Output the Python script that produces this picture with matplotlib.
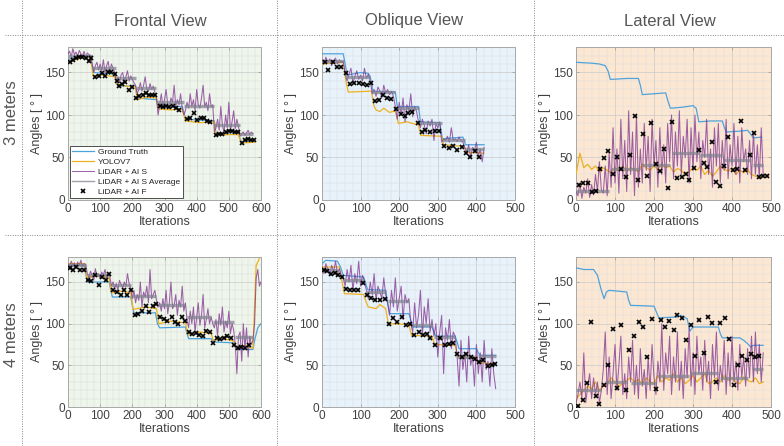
import numpy as np
import matplotlib
matplotlib.use("Agg")
import matplotlib.pyplot as plt
from matplotlib.lines import Line2D
from matplotlib.ticker import MultipleLocator

plt.rcParams['font.family'] = ['Liberation Sans', 'DejaVu Sans']

# ==========================================================
# DATA  (angles in degrees)
# ==========================================================
col_titles = ["Frontal View", "Oblique View", "Lateral View"]
row_titles = ["3 meters", "4 meters"]
legend_labels = ["Ground Truth", "YOLOV7", "LiDAR + AI S", "LiDAR + AI S Average", "LiDAR + AI F"]
x_limits = [600, 500, 500]
y_ticks = [0, 50, 100, 150]

# ---- 3 m, frontal
f3_gt_x = [0, 20, 70, 75, 80, 145, 150, 155, 210, 215, 275, 280, 355, 360, 365, 455, 460, 530, 535, 540, 580]
f3_gt_y = [165, 168, 170, 160, 150, 148, 140, 134, 134, 120, 118, 110, 110, 104, 95, 93, 78, 77, 72, 68, 70]
f3_yolo_x = [0, 30, 70, 78, 110, 145, 152, 180, 210, 215, 245, 275, 282, 320, 355, 365, 410, 455, 460, 500, 530, 538, 580]
f3_yolo_y = [162, 166, 168, 146, 147, 145, 136, 134, 133, 118, 121, 120, 107, 106, 107, 93, 91, 92, 76, 77, 77, 67, 68]
f3_s = [172, 175, 168, 178, 171, 174, 169, 176, 172, 170, 175, 168, 173, 171, 170,
        160, 150, 158, 162, 153, 160, 152, 165, 150, 158, 163, 150, 160, 155, 150,
        140, 145, 138, 147, 150, 140, 145, 152, 140, 146, 142, 138,
        135, 125, 130, 138, 128, 135, 145, 130, 128, 137, 130, 134, 127,
        120, 100, 112, 125, 110, 118, 130, 112, 108, 120, 115, 135, 110, 118, 112, 125, 108,
        100, 105, 115, 108, 125, 110, 118, 105, 130, 112, 108, 120, 135, 110, 115, 105, 125, 110, 112,
        80, 85, 95, 82, 110, 88, 80, 100, 85, 115, 82, 92, 105, 84, 95, 86,
        75, 78, 80, 76, 79, 82, 77, 80, 78]
f3_avg_start = [0, 75, 150, 210, 275, 360, 455, 535]
f3_avg_end = [75, 150, 210, 275, 360, 455, 535, 575]
f3_avg_val = [170, 155, 143, 132, 115, 110, 88, 78]
f3_f_x = [5, 15, 25, 35, 45, 55, 65, 72, 85, 95, 105, 115, 125, 135, 145, 152, 160, 168, 178, 190, 200,
          212, 222, 232, 242, 252, 262, 272, 285, 295, 305, 315, 325, 335, 345, 370, 380, 392, 402, 412,
          422, 432, 442, 460, 470, 480, 490, 500, 510, 520, 530, 540, 550, 560, 570, 578]
f3_f_y = [162, 165, 167, 168, 168, 167, 163, 167, 145, 146, 149, 146, 151, 150, 148, 140, 134, 137, 139, 129, 133,
          120, 122, 124, 126, 124, 123, 123, 110, 109, 110, 109, 111, 108, 106, 95, 96, 102, 94, 96,
          97, 93, 92, 76, 78, 78, 80, 81, 81, 80, 80, 67, 70, 72, 70, 71]

# ---- 3 m, oblique
o3_gt_x = [0, 55, 60, 65, 100, 120, 125, 132, 190, 195, 250, 255, 305, 312, 365, 372, 420]
o3_gt_y = [172, 172, 160, 147, 150, 149, 145, 128, 127, 110, 110, 92, 91, 72, 74, 65, 65]
o3_yolo_x = [0, 55, 62, 68, 128, 135, 140, 150, 160, 175, 190, 198, 220, 250, 256, 310, 315, 368, 375, 420]
o3_yolo_y = [160, 162, 140, 127, 128, 110, 106, 104, 108, 103, 105, 90, 92, 88, 76, 75, 65, 63, 56, 55]
o3_s = [165, 160, 168, 162, 166, 158, 164, 167, 160, 165, 162, 163,
        150, 140, 148, 155, 138, 145, 152, 142, 147, 140, 155, 143, 148, 140,
        125, 130, 122, 133, 128, 120, 135, 126, 130, 124, 128, 122,
        110, 95, 115, 100, 120, 92, 112, 105, 125, 98, 110, 104,
        92, 85, 95, 88, 78, 93, 87, 95, 70, 90, 85, 92,
        68, 72, 70, 75, 68, 85, 70, 72, 69, 74, 70, 68,
        62, 55, 65, 50, 62, 58, 68, 52, 60, 45, 62]
o3_avg_start = [0, 60, 130, 190, 250, 310, 370]
o3_avg_end = [58, 125, 190, 250, 310, 370, 420]
o3_avg_val = [163, 145, 127, 108, 90, 70, 60]
o3_f_x = [8, 16, 28, 39, 50, 61, 72, 83, 96, 106, 117, 128, 137, 147, 158, 168, 180, 192, 204, 214, 224,
          234, 248, 258, 268, 280, 292, 304, 316, 328, 340, 350, 362, 374, 384, 396, 406]
o3_f_y = [162, 153, 162, 157, 157, 149, 136, 138, 138, 136, 135, 138, 116, 118, 123, 120, 119, 107, 101, 99, 102,
          103, 90, 80, 82, 80, 81, 81, 63, 61, 64, 59, 62, 55, 51, 58, 51]

# ---- 3 m, lateral
l3_gt_x = [0, 40, 60, 75, 82, 88, 95, 130, 160, 165, 170, 200, 230, 236, 242, 270, 300, 308, 315, 345,
           375, 380, 385, 420, 440, 447, 455, 475]
l3_gt_y = [162, 161, 160, 158, 152, 142, 142, 143, 143, 135, 124, 125, 126, 116, 108, 109, 111, 108, 92, 93,
           93, 86, 80, 81, 82, 78, 73, 74]
l3_yolo = [30, 55, 38, 42, 36, 40, 33, 38, 35, 32, 38, 35, 40, 34, 38, 36, 33, 42, 38, 35, 40, 36, 42, 38, 40,
           33, 37, 35, 30, 33, 38, 35, 40, 30, 35, 28, 33, 40, 36, 34, 38, 30, 35, 32, 36, 30, 28, 27, 28]
l3_s = [10, 5, 20, 2, 15, 8, 25, 3, 18, 6, 30, 10, 45, 12, 8, 40, 5, 55,
        15, 85, 20, 60, 8, 95, 25, 70, 10, 105, 30, 80, 5, 100, 15, 60, 20, 90, 35, 75, 10, 95,
        40, 70, 15, 85, 30, 65, 20, 90, 45, 100, 25, 80, 40, 105, 30, 75, 50, 95, 20, 85,
        35, 100, 45, 80, 25, 70, 50, 95, 30, 60, 15, 85, 40, 90, 20, 70, 35, 95, 25, 65,
        40, 90, 30, 75, 20, 85, 45, 60, 30, 70, 25, 80, 30, 65, 25, 85, 30]
l3_avg_start = [0, 90, 170, 245, 318, 380, 455]
l3_avg_end = [85, 165, 240, 315, 375, 448, 480]
l3_avg_val = [10, 36, 41, 55, 53, 47, 41]
l3_f_x = [7, 19, 30, 40, 51, 62, 73, 83, 96, 105, 116, 128, 139, 150, 160, 171, 182, 193, 204, 215, 226,
          236, 247, 259, 271, 282, 291, 303, 316, 327, 337, 348, 359, 369, 380, 391, 402, 413, 424, 434,
          446, 457, 468, 479, 490]
l3_f_y = [18, 20, 20, 9, 10, 36, 49, 58, 31, 50, 36, 27, 53, 99, 24, 78, 28, 91, 42, 34, 60,
          14, 92, 26, 27, 31, 23, 38, 59, 43, 39, 68, 21, 16, 40, 74, 35, 37, 93, 35,
          53, 79, 27, 28, 28]

# ---- 4 m, frontal
f4_gt_x = [0, 50, 55, 60, 128, 133, 138, 195, 200, 205, 272, 278, 285, 365, 370, 375, 445, 450, 455, 515,
           520, 525, 575, 580, 590, 600]
f4_gt_y = [170, 170, 160, 150, 150, 140, 132, 132, 122, 113, 113, 100, 95, 96, 88, 82, 82, 80, 78, 77,
           72, 69, 69, 80, 95, 100]
f4_yolo_x = [0, 52, 58, 90, 128, 135, 165, 195, 202, 240, 275, 282, 320, 365, 372, 410, 445, 452, 485, 515,
             522, 550, 575, 580, 585, 595]
f4_yolo_y = [172, 172, 155, 157, 155, 137, 139, 137, 117, 120, 118, 100, 103, 101, 87, 90, 88, 80, 82, 79,
             72, 74, 70, 120, 170, 178]
f4_s = [172, 168, 175, 170, 173, 167, 174, 170, 176, 169, 172, 171,
        160, 155, 163, 158, 152, 166, 157, 160, 154, 162, 158, 165, 155, 160, 157,
        145, 150, 142, 148, 140, 152, 147, 143, 150, 145, 160, 148, 142,
        130, 140, 125, 135, 128, 150, 120, 138, 132, 145, 125, 165, 130, 135, 140, 128,
        120, 125, 115, 130, 118, 140, 112, 125, 150, 118, 122, 135, 110, 128, 120, 145, 115, 125,
        105, 95, 115, 100, 120, 90, 108, 125, 98, 110, 135, 95, 105, 118, 100, 108,
        100, 95, 105, 85, 112, 98, 120, 90, 103, 95, 115, 88, 100, 92,
        75, 40, 85, 90, 55, 100, 70, 95, 60, 85, 75, 80,
        100, 155, 165, 145, 150]
f4_avg_start = [0, 60, 135, 200, 280, 370, 450, 520]
f4_avg_end = [55, 130, 195, 275, 365, 445, 515, 575]
f4_avg_val = [170, 158, 147, 133, 122, 108, 102, 84]
f4_f_x = [5, 16, 26, 38, 50, 62, 72, 85, 95, 107, 118, 129, 141, 152, 164, 175, 184, 195, 207, 218, 230,
          241, 252, 264, 275, 287, 298, 309, 322, 332, 342, 353, 365, 375, 387, 397, 408, 419, 429, 440,
          451, 462, 474, 484, 494, 507, 517, 528, 539, 550, 562]
f4_f_y = [167, 164, 168, 165, 165, 152, 151, 159, 146, 156, 152, 160, 140, 138, 134, 141, 135, 140, 111, 112, 115,
          121, 114, 121, 124, 108, 106, 103, 108, 102, 100, 108, 103, 90, 88, 89, 87, 85, 91, 90,
          77, 83, 82, 83, 85, 83, 75, 71, 72, 71, 74]

# ---- 4 m, oblique
o4_gt_x = [0, 10, 40, 48, 55, 108, 112, 118, 165, 170, 175, 225, 230, 235, 285, 290, 295, 345, 350, 355,
           400, 405, 410, 450]
o4_gt_y = [172, 176, 175, 168, 158, 156, 150, 141, 140, 125, 112, 112, 105, 96, 96, 90, 85, 85, 78, 70,
           70, 65, 62, 62]
o4_yolo_x = [0, 45, 52, 58, 108, 115, 120, 140, 150, 165, 172, 225, 232, 285, 292, 345, 352, 400, 407, 450]
o4_yolo_y = [168, 168, 150, 136, 135, 125, 120, 118, 123, 118, 100, 99, 86, 85, 75, 74, 60, 59, 53, 52]
o4_s = [168, 160, 172, 165, 158, 170, 162, 175, 160, 166, 158,
        155, 145, 165, 150, 170, 140, 160, 148, 175, 145, 158, 150,
        140, 130, 150, 135, 160, 128, 145, 138, 130, 155, 135,
        125, 110, 140, 120, 155, 115, 130, 145, 105, 135, 125, 130,
        100, 90, 125, 95, 110, 140, 85, 120, 100, 130, 90, 105,
        85, 100, 60, 90, 110, 40, 95, 80, 105, 70, 90, 85,
        60, 25, 80, 45, 65, 30, 85, 50, 60, 25, 75, 40, 65, 30, 80, 45, 55, 25, 70, 40, 22]
o4_avg_start = [0, 55, 115, 170, 230, 290, 350, 405]
o4_avg_end = [45, 110, 165, 225, 285, 345, 400, 450]
o4_avg_val = [165, 152, 138, 127, 99, 84, 60, 61]
o4_f_x = [4, 14, 23, 33, 42, 52, 61, 72, 83, 93, 106, 117, 127, 137, 149, 162, 174, 184, 194, 206, 217,
          228, 238, 250, 261, 271, 281, 294, 306, 318, 329, 339, 351, 362, 374, 385, 396, 407, 418, 429,
          440, 448]
o4_f_y = [165, 163, 160, 161, 159, 156, 142, 140, 140, 141, 149, 134, 131, 129, 128, 130, 100, 107, 102, 108, 99,
          100, 87, 90, 86, 88, 83, 75, 83, 74, 76, 77, 64, 60, 64, 60, 58, 54, 56, 49,
          51, 52]

# ---- 4 m, lateral
l4_gt_x = [0, 20, 45, 55, 65, 72, 78, 85, 130, 135, 140, 200, 207, 212, 260, 268, 285, 292, 298, 305,
           365, 370, 375, 420, 430, 440, 448, 455, 480]
l4_gt_y = [167, 165, 165, 158, 140, 130, 138, 140, 138, 128, 122, 121, 113, 107, 108, 110, 106, 91, 95, 96,
           96, 88, 83, 83, 80, 76, 72, 74, 74]
l4_yolo = [10, 15, 20, 25, 22, 30, 20, 25, 28, 35, 30, 25, 28, 32, 35, 30, 33, 28, 35, 30, 28, 38, 30, 35, 32,
           40, 30, 35, 28, 32, 38, 30, 35, 40, 28, 30, 35, 30, 38, 32, 35, 30, 28, 36, 32, 30, 35, 28, 30]
l4_s = [5, 15, 30, 10, 65, 5, 25, 40, 10, 35, 15, 30, 5, 20, 45, 90, 15, 60, 10, 40,
        75, 20, 50, 85, 15, 40, 10, 60, 30, 80, 15, 50, 10, 70, 25, 45, 10, 60, 20, 75,
        35, 15, 55, 30, 100, 20, 65, 40, 85, 15, 60, 30, 90, 20, 55, 10, 70, 35, 95, 25,
        65, 15, 85, 40, 60, 20, 80, 30, 55, 10, 75, 35, 90, 20, 50, 30, 80, 15, 65, 25,
        85, 30, 55, 20, 75, 35, 60, 25, 70, 35, 85, 30, 90, 40, 75, 30, 65]
l4_avg_start = [0, 75, 140, 210, 295, 370, 450]
l4_avg_end = [65, 130, 205, 290, 365, 440, 480]
l4_avg_val = [20, 30, 29, 37, 41, 35, 46]
l4_f_x = [6, 17, 27, 39, 50, 60, 71, 82, 94, 105, 115, 127, 137, 149, 161, 171, 182, 194, 205, 217, 227,
          239, 250, 260, 271, 283, 294, 305, 316, 327, 338, 349, 360, 370, 381, 393, 404, 415, 426, 438,
          449, 460, 468]
l4_f_y = [1, 8, 29, 102, 13, 4, 27, 51, 94, 23, 98, 20, 69, 85, 102, 96, 60, 106, 22, 104, 96,
          103, 92, 110, 107, 81, 98, 61, 104, 65, 108, 101, 30, 101, 107, 82, 26, 51, 61, 56,
          64, 60, 61]

panels = [
    [(f3_gt_x, f3_gt_y, f3_yolo_x, f3_yolo_y, f3_s, f3_avg_start, f3_avg_end, f3_avg_val, f3_f_x, f3_f_y),
     (o3_gt_x, o3_gt_y, o3_yolo_x, o3_yolo_y, o3_s, o3_avg_start, o3_avg_end, o3_avg_val, o3_f_x, o3_f_y),
     (l3_gt_x, l3_gt_y, None, l3_yolo, l3_s, l3_avg_start, l3_avg_end, l3_avg_val, l3_f_x, l3_f_y)],
    [(f4_gt_x, f4_gt_y, f4_yolo_x, f4_yolo_y, f4_s, f4_avg_start, f4_avg_end, f4_avg_val, f4_f_x, f4_f_y),
     (o4_gt_x, o4_gt_y, o4_yolo_x, o4_yolo_y, o4_s, o4_avg_start, o4_avg_end, o4_avg_val, o4_f_x, o4_f_y),
     (l4_gt_x, l4_gt_y, None, l4_yolo, l4_s, l4_avg_start, l4_avg_end, l4_avg_val, l4_f_x, l4_f_y)],
]

# ==========================================================
# STYLE
# ==========================================================
bg_colors = ['#eef5ea', '#e7f2fb', '#fce7d3']
c_gt = '#4fa3dc'
c_yolo = '#edb120'
c_s = '#7e2f8e'
c_avg = '#80808f'
text_gray = '#404040'

W, H = 784, 446
fig = plt.figure(figsize=(W / 100, H / 100), dpi=100)

col_left = [68, 322, 576]
col_width = [193, 193, 195]
row_top = [47, 257]
row_height = [153, 150]

for r in range(2):
    for c in range(3):
        gt_x, gt_y, yolo_x, yolo_y, s_y, a0, a1, av, fx, fy = panels[r][c]
        ax = fig.add_axes([col_left[c] / W, 1 - (row_top[r] + row_height[r]) / H,
                           col_width[c] / W, row_height[r] / H])
        ax.set_facecolor(bg_colors[c])

        if yolo_x is None:
            yolo_x = np.arange(len(yolo_y)) * 10
        s_x = np.arange(len(s_y)) * 5

        ax.plot(gt_x, gt_y, color=c_gt, lw=0.9, label=legend_labels[0], zorder=3)
        ax.plot(yolo_x, yolo_y, color=c_yolo, lw=0.9, label=legend_labels[1], zorder=3)
        ax.plot(s_x, s_y, color=c_s, lw=0.75, alpha=0.75, label=legend_labels[2], zorder=4)
        ax.hlines(av, a0, a1, color=c_avg, lw=2.4, alpha=0.7, zorder=5)
        ax.plot([], [], color=c_avg, lw=1.0, alpha=0.75, label=legend_labels[3])
        ax.plot(fx, fy, ls='none', marker='x', ms=3.0, mew=1.2, color='black',
                label=legend_labels[4], zorder=6)

        ax.set_xlim(0, x_limits[c])
        ax.set_ylim(0, 180)
        ax.set_yticks(y_ticks)
        ax.xaxis.set_major_locator(MultipleLocator(100))
        ax.xaxis.set_minor_locator(MultipleLocator(20))
        ax.yaxis.set_minor_locator(MultipleLocator(10))
        ax.grid(which='major', color='#c9c9c9', lw=0.5, zorder=0)
        ax.grid(which='minor', color='#dcdcdc', lw=0.35, zorder=0)
        ax.set_axisbelow(True)
        ax.tick_params(which='both', direction='in', top=True, right=True, colors='#9a9a9a',
                       labelcolor=text_gray, labelsize=8.5, length=2.5, width=0.5, pad=2)
        ax.tick_params(which='minor', length=0)
        for sp in ax.spines.values():
            sp.set_color('#a8a8a8')
            sp.set_linewidth(0.7)
        ax.set_xlabel('Iterations', fontsize=9, color=text_gray, labelpad=1)
        ax.set_ylabel('Angles [ ° ]', fontsize=9, color=text_gray, labelpad=2)

        if r == 0 and c == 0:
            leg = ax.legend(loc='lower left', fontsize=6, frameon=True, fancybox=False,
                            borderpad=0.3, labelspacing=0.25, handlelength=2.6,
                            handletextpad=0.5, borderaxespad=0.2)
            leg.get_frame().set_edgecolor('#333333')
            leg.get_frame().set_linewidth(0.6)
            leg.get_frame().set_alpha(1)
            for t in leg.get_texts():
                t.set_color('#222222')

# ==========================================================
# HEADERS AND SEPARATORS
# ==========================================================
title_x = [160, 414, 670]
for t, x in zip(col_titles, title_x):
    fig.text(x / W, 1 - 21 / H, t, ha='center', va='center', fontsize=12, color='#555555')
row_y = [113, 335]
for t, y in zip(row_titles, row_y):
    fig.text(12 / W, 1 - y / H, t, ha='center', va='center', rotation=90, fontsize=12, color='#555555')

sep_style = dict(color='#888888', lw=0.7, ls=(0, (1, 1.5)), transform=fig.transFigure)
fig.add_artist(Line2D([5 / W, 1], [1 - 35 / H, 1 - 35 / H], **sep_style))
fig.add_artist(Line2D([5 / W, 1], [1 - 235 / H, 1 - 235 / H], **sep_style))
for x in [22, 277, 534]:
    fig.add_artist(Line2D([x / W, x / W], [0, 1], **sep_style))

fig.savefig('out.png', dpi=100)
